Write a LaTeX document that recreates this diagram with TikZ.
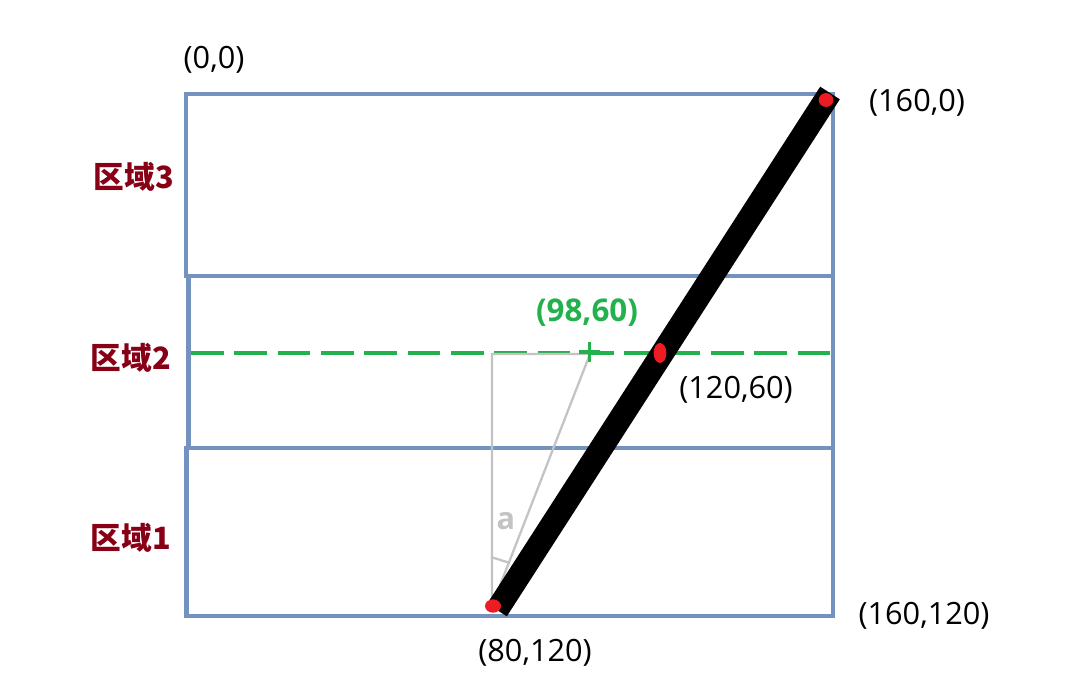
\documentclass[tikz,border=0pt]{standalone}
\usepackage{fontspec}
\setmainfont{Open Sans}
\newfontfamily\cjk{Noto Sans CJK SC}
\definecolor{frameblue}{RGB}{115,147,190}
\definecolor{dotred}{RGB}{237,28,36}
\definecolor{regionred}{RGB}{136,0,21}
\definecolor{guidegreen}{RGB}{34,177,76}
\definecolor{helpgrey}{RGB}{195,195,195}
\begin{document}
\begin{tikzpicture}[x=0.75pt,y=-0.75pt,
  regionbox/.style={draw=frameblue,line width=3.4pt},
  coordlabel/.style={font=\fontsize{23}{27}\selectfont,inner sep=0pt,text=black},
  regionlabel/.style={font=\cjk\bfseries\fontsize{23}{27}\selectfont,inner sep=0pt,text=regionred},
  greenlabel/.style={font=\bfseries\fontsize{23.5}{27}\selectfont,inner sep=0pt,text=guidegreen},
  greylabel/.style={font=\bfseries\fontsize{23}{27}\selectfont,inner sep=0pt,text=helpgrey},
  thickline/.style={line width=17.5pt,black,line cap=butt},
  guideline/.style={draw=guidegreen,line width=2.3pt,dash pattern=on 24.5pt off 8pt},
  helpline/.style={draw=helpgrey,line width=1.7pt},
  reddot/.style={fill=dotred}]
\useasboundingbox (0,0) rectangle (1069,693);
% regions
\draw[regionbox] (186,94) rectangle (833,276);
\draw[regionbox] (188.5,276) rectangle (833,448);
\draw[regionbox] (186.5,448) rectangle (833,616);
% green guide
\coordinate (gl) at (191,353);
\coordinate (gr) at (833,353);
\draw[guideline] (gl) -- (gr);
% grey helper triangle
\coordinate (A) at (492,606);
\coordinate (V) at (492,354);
\coordinate (T) at (590,354);
\coordinate (m1) at (491,557);
\coordinate (m2) at (510,563);
\draw[helpline] (A) -- (V) -- (T) -- (A);
\draw[helpline] (m1) -- (m2);
% thick black line
\coordinate (L0) at (497,610);
\coordinate (L1) at (830,93);
\draw[thickline] (L0) -- (L1);
% green cross
\coordinate (c1) at (579,352);
\coordinate (c2) at (600,352);
\coordinate (c3) at (589.5,342);
\coordinate (c4) at (589.5,362);
\draw[guidegreen,line width=2.3pt] (c1) -- (c2) (c3) -- (c4);
% red dots
\fill[reddot] (493,606) ellipse (6pt and 5pt);
\fill[reddot] (826,100) ellipse (5.5pt and 5.2pt);
\fill[reddot] (660,353) ellipse (4.8pt and 7.5pt);
% labels
\node[coordlabel] (l00) at (214,60) {(0,0)};
\node[coordlabel] (l1600) at (917,103) {(160,0)};
\node[coordlabel] (l12060) at (736,390) {(120,60)};
\node[coordlabel] (l160120) at (924,616) {(160,120)};
\node[coordlabel] (l80120) at (535,653) {(80,120)};
\node[greenlabel] (l9860) at (587,313) {(98,60)};
\node[greylabel] (la) at (506,521) {a};
\node[regionlabel] (r3) at (134,177) {区域3};
\node[regionlabel] (r2) at (131,358) {区域2};
\node[regionlabel] (r1) at (131,538) {区域1};
\end{tikzpicture}
\end{document}
